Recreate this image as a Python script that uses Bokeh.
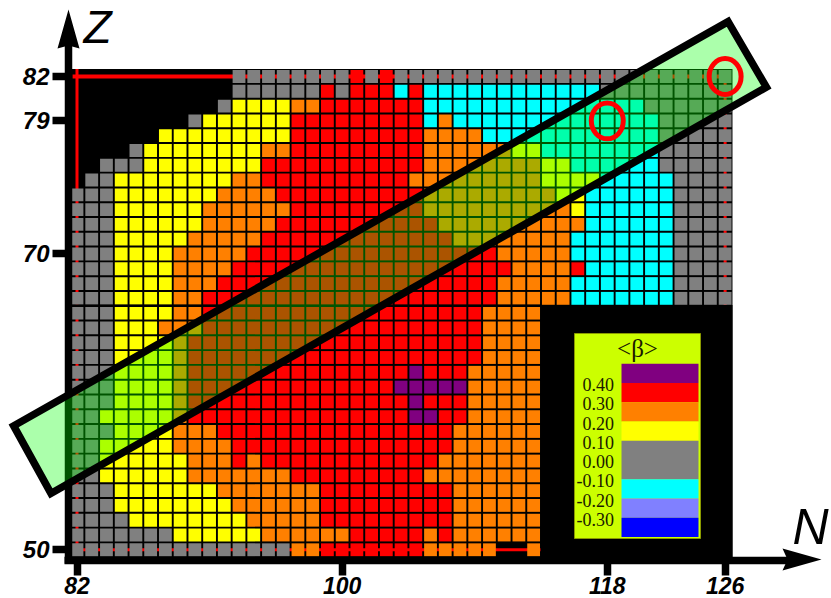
from bokeh.plotting import figure
from bokeh.models import Range1d, LinearAxis, FixedTicker
from bokeh.core.properties import value
from bokeh.embed import file_html
from bokeh.resources import INLINE

# ---------- data: deformation class of each nucleus, run-length per Z row, starting at N = 82
n_first = 82
z_values = list(range(82, 49, -1))
beta_rows = [
    ".11 G8 R1 G1 R1 G23",
    ".11 G6 R1 G1 R3 C1 R1 C12 G9",
    ".10 G1 Y4 O2 R7 C15 G6",
    ".8 G1 Y6 R9 C1 O1 C14 G5",
    ".6 Y9 R9 O4 C12 G5",
    ".4 G1 Y8 O2 R9 O6 Y2 C8 G5",
    ".2 G3 Y8 R11 O8 Y2 C6 G5",
    ".1 G2 Y8 O2 R10 O9 Y4 C5 G4",
    "G3 Y7 O4 R10 O9 Y2 C6 G4",
    "G3 Y6 O6 R9 O10 Y1 C6 G4",
    "G3 Y6 O5 R11 O10 C6 G4",
    "G3 Y5 O5 R13 O8 C7 G4",
    "G3 Y4 O5 R17 O5 C7 G4",
    "G3 Y4 O4 R19 O4 R1 C6 G4",
    "G3 Y4 O3 R19 O5 C7 G4",
    "G3 Y4 O2 R20 O5 C7 G4",
    "G3 Y4 O2 R19 O4",
    "G3 Y3 O3 R19 O4",
    "G3 Y4 O1 R20 O4",
    "G3 Y4 O1 R20 O4",
    "G3 Y4 O1 R15 P1 R3 O5",
    "G3 Y4 O1 R14 P5 O5",
    "G3 Y4 O1 R15 P1 R3 O5",
    "G2 Y5 O1 R15 P2 R2 O5",
    "G3 Y4 O3 R16 O6",
    "G2 Y5 O4 R15 O6",
    "G2 Y6 O3 R1 O1 R12 O7",
    "G2 Y6 O7 R9 O8",
    "G3 Y7 O7 R9 O6",
    "G3 Y8 O6 R9 O6",
    "G4 Y8 O5 R9 O6",
    "G7 Y6 O6 R5 O1 R1 O6",
    "G15 O2 R7 O5 .2 O1",
]
beta_colors = {
    "P": "#800080", "R": "#ff0000", "O": "#ff8000", "Y": "#ffff00", "G": "#808080",
    "C": "#00ffff", "L": "#8080ff", "B": "#0000ff",
}
legend_classes = ["P", "R", "O", "Y", "G", "G", "C", "L", "B"]
legend_labels = ["0.40", "0.30", "0.20", "0.10", "0.00", "-0.10", "-0.20", "-0.30"]
x_ticks = [82, 100, 118, 126]
z_ticks = [82, 79, 70, 50]
marked_n = [118, 126]
marked_z = [79, 82]

# ---------- scale: screen pixel <-> (N, Z), used for annotations
PX_N0, PX_PER_N = 76.5, 14.73
PY_Z0, PY_PER_Z = 76.0, 14.79
def nx(px):
    return n_first + (px - PX_N0) / PX_PER_N
def zy(py):
    return z_values[0] - (py - PY_Z0) / PY_PER_Z

p = figure(width=831, height=598, output_backend="svg", toolbar_location=None,
           x_range=Range1d(nx(0), nx(831)), y_range=Range1d(zy(598), zy(0)),
           x_axis_type=None, y_axis_type=None, min_border=0, outline_line_color=None,
           background_fill_color="white", border_fill_color="white")
p.grid.visible = False

# black chart area
p.quad(left=[n_first - 0.5], right=[126.5], bottom=[49.5], top=[82.5], fill_color="black", line_color=None)
# red boundary running behind the cells
p.line([nx(72), 126], [82, 82], line_color="#ff0000", line_width=4)
p.line([82, 82], [zy(68.5), 50], line_color="#ff0000", line_width=3)
p.line([126, 126, 82], [82, 50, 50], line_color="#ff0000", line_width=3)

# cells
cell_n, cell_z, cell_c = [], [], []
for z, row in zip(z_values, beta_rows):
    n = n_first
    for run in row.split():
        code, count = run[0], int(run[1:])
        for _ in range(count):
            if code != ".":
                cell_n.append(n); cell_z.append(z); cell_c.append(beta_colors[code])
            n += 1
p.rect(cell_n, cell_z, width=0.87, height=0.87, fill_color=cell_c, line_color=None)

# break between Z rows
p.line([81.5, 113.5], [66.5, 66.5], line_color="black", line_width=2.5)

# legend panel
p.quad(left=[nx(540)], right=[126.5], bottom=[zy(563)], top=[zy(304.5)], fill_color="black", line_color=None)
p.quad(left=[nx(574)], right=[nx(700)], bottom=[zy(538)], top=[zy(333)], fill_color="#ccff00", line_color="#8a9a00", line_width=1)
step = 19.25
tops = [363.3 + i * step for i in range(len(legend_classes))]
p.quad(left=nx(621), right=nx(698), top=[zy(t) for t in tops], bottom=[zy(t + step) for t in tops],
       fill_color=[beta_colors[c] for c in legend_classes], line_color=None)
p.text([nx(613.5)] * len(legend_labels), [zy(tops[i + 1] + 1.5) for i in range(len(legend_labels))],
       text=legend_labels, text_align="right", text_baseline="middle", text_color="#1a1a00",
       text_font=value("Liberation Serif"), text_font_size="18px")
p.text([nx(637)], [zy(348)], text=["<β>"], text_align="center", text_baseline="middle", text_color="#1a1a00",
       text_font=value("Liberation Serif"), text_font_size="25px")

# axes
xax = LinearAxis(ticker=FixedTicker(ticks=x_ticks), fixed_location=zy(559.5), bounds=(nx(64.2), nx(790)))
yax = LinearAxis(ticker=FixedTicker(ticks=z_ticks), fixed_location=nx(68), bounds=(zy(563.2), zy(40)))
for ax, out, standoff, label_size in ((xax, 15, 2, "23px"), (yax, 16, 3, "24px")):
    ax.axis_line_color = "black"
    ax.axis_line_width = 7.5
    ax.major_tick_line_color = "black"
    ax.major_tick_line_width = 7.5
    ax.major_tick_out = out
    ax.major_tick_in = 0
    ax.minor_tick_line_color = None
    ax.major_label_standoff = standoff
    ax.major_label_text_font = "Liberation Sans"
    ax.major_label_text_font_style = "bold italic"
    ax.major_label_text_font_size = label_size
    ax.major_label_text_color = "black"
p.add_layout(xax, "below")
p.add_layout(yax, "left")

# arrow heads
p.patch([nx(68), nx(79), nx(68), nx(57)], [zy(9), zy(48), zy(45), zy(48)], fill_color="black", line_color=None)
p.patch([nx(821), nx(782), nx(787), nx(782)], [zy(559), zy(570), zy(559), zy(548)], fill_color="black", line_color=None)
# axis titles
p.text([nx(83)], [zy(26)], text=["Z"], text_baseline="middle", text_align="left", text_color="black",
       text_font=value("Liberation Sans"), text_font_style="italic", text_font_size="46px")
p.text([nx(792)], [zy(526.5)], text=["N"], text_baseline="middle", text_align="left", text_color="black",
       text_font=value("Liberation Sans"), text_font_style="italic", text_font_size="50px")

# translucent band and marked nuclei
band_n = [126.2, 128.8, 80.23, 77.7]
band_z = [85.71, 81.28, 53.81, 58.38]
p.patch(band_n, band_z, fill_color="#00ff00", fill_alpha=0.33, line_color="black", line_width=7.5,
        line_join="miter", level="overlay")
p.ellipse(marked_n, marked_z, width=2.17, height=2.43, fill_color=None, line_color="#ff0000", line_width=5,
          level="overlay")

open("out.html", "w").write(file_html(p, INLINE))
